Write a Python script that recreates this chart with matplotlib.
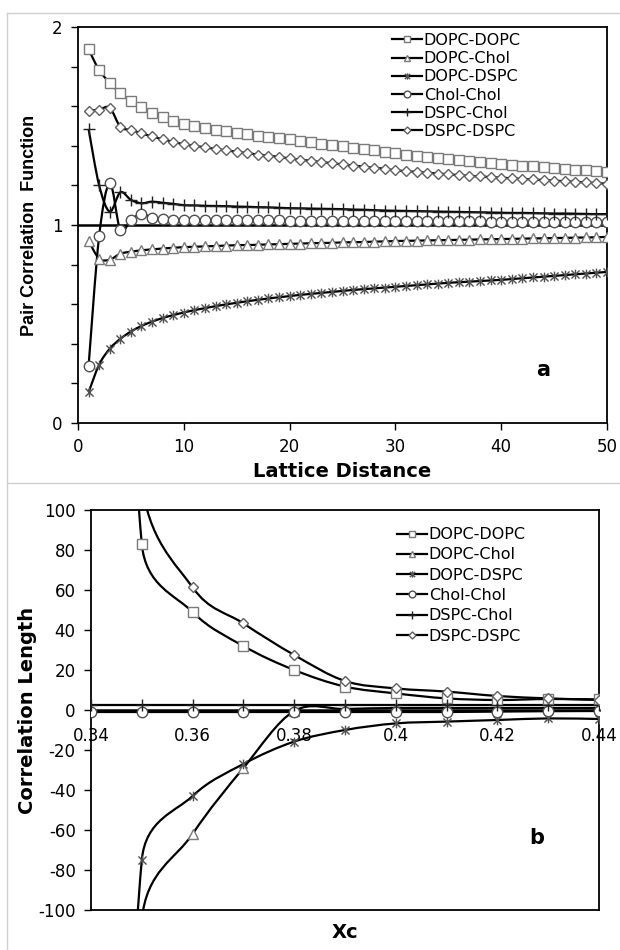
import numpy as np
import matplotlib
matplotlib.use("Agg")
import matplotlib.pyplot as plt
from matplotlib.path import Path
from matplotlib.patches import PathPatch
from matplotlib.lines import Line2D

plt.rcParams['font.family'] = ['DejaVu Sans']
plt.rcParams['axes.unicode_minus'] = False

# ---------------- data: panel a ----------------
series_names = ['DOPC-DOPC', 'DOPC-Chol', 'DOPC-DSPC', 'Chol-Chol', 'DSPC-Chol', 'DSPC-DSPC']
lattice_distance = list(range(1, 51))

g_dopc_dopc = [1.887, 1.782, 1.718, 1.666, 1.627, 1.595, 1.566, 1.544, 1.526, 1.512,
               1.500, 1.490, 1.481, 1.473, 1.465, 1.458, 1.451, 1.444, 1.438, 1.432,
               1.425, 1.418, 1.411, 1.404, 1.397, 1.390, 1.383, 1.377, 1.371, 1.362,
               1.356, 1.350, 1.344, 1.338, 1.333, 1.328, 1.323, 1.318, 1.313, 1.309,
               1.304, 1.300, 1.296, 1.292, 1.288, 1.284, 1.280, 1.276, 1.272, 1.267]
g_dopc_chol = [0.920, 0.830, 0.825, 0.855, 0.865, 0.872, 0.877, 0.881, 0.885, 0.888,
               0.890, 0.892, 0.894, 0.896, 0.898, 0.899, 0.900, 0.902, 0.903, 0.905,
               0.906, 0.908, 0.909, 0.910, 0.912, 0.913, 0.914, 0.916, 0.917, 0.919,
               0.920, 0.921, 0.922, 0.923, 0.924, 0.925, 0.926, 0.927, 0.928, 0.929,
               0.930, 0.931, 0.932, 0.933, 0.934, 0.935, 0.936, 0.937, 0.938, 0.940]
g_dopc_dspc = [0.155, 0.295, 0.375, 0.425, 0.462, 0.490, 0.512, 0.530, 0.545, 0.558,
               0.570, 0.580, 0.590, 0.599, 0.607, 0.615, 0.622, 0.629, 0.635, 0.641,
               0.647, 0.652, 0.657, 0.662, 0.667, 0.672, 0.676, 0.680, 0.684, 0.688,
               0.692, 0.696, 0.700, 0.704, 0.708, 0.711, 0.714, 0.717, 0.720, 0.723,
               0.727, 0.731, 0.735, 0.739, 0.743, 0.747, 0.751, 0.755, 0.759, 0.763]
g_chol_chol = [0.288, 0.945, 1.212, 0.975, 1.025, 1.057, 1.035, 1.028, 1.027, 1.026,
               1.026, 1.025, 1.025, 1.025, 1.024, 1.024, 1.024, 1.023, 1.023, 1.022,
               1.022, 1.022, 1.021, 1.021, 1.021, 1.020, 1.020, 1.020, 1.020, 1.019,
               1.019, 1.019, 1.019, 1.018, 1.018, 1.018, 1.018, 1.018, 1.017, 1.017,
               1.017, 1.017, 1.017, 1.017, 1.016, 1.016, 1.016, 1.016, 1.016, 1.016]
g_dspc_chol = [1.485, 1.200, 1.068, 1.165, 1.127, 1.110, 1.118, 1.112, 1.107, 1.100,
               1.099, 1.097, 1.096, 1.095, 1.093, 1.092, 1.090, 1.089, 1.087, 1.085,
               1.084, 1.083, 1.082, 1.081, 1.080, 1.078, 1.077, 1.075, 1.073, 1.072,
               1.071, 1.070, 1.069, 1.068, 1.067, 1.066, 1.065, 1.064, 1.063, 1.062,
               1.061, 1.061, 1.060, 1.059, 1.058, 1.058, 1.057, 1.056, 1.055, 1.055]
g_dspc_dspc = [1.577, 1.583, 1.592, 1.496, 1.480, 1.463, 1.447, 1.433, 1.420, 1.408,
               1.400, 1.392, 1.384, 1.377, 1.370, 1.363, 1.356, 1.350, 1.344, 1.336,
               1.330, 1.324, 1.318, 1.312, 1.306, 1.300, 1.295, 1.289, 1.284, 1.276,
               1.272, 1.268, 1.264, 1.260, 1.256, 1.252, 1.248, 1.245, 1.242, 1.239,
               1.236, 1.233, 1.230, 1.227, 1.224, 1.221, 1.218, 1.215, 1.212, 1.208]

xa_ticks = [0, 10, 20, 30, 40, 50]
ya_ticks = [0, 1, 2]
ya_tick_labels = ['0', '1', '2']

# ---------------- data: panel b ----------------
xc = [0.34, 0.35, 0.36, 0.37, 0.38, 0.39, 0.40, 0.41, 0.42, 0.43, 0.44]
l_dopc_dopc = [600, 83, 49, 32, 20, 11.7, 8.3, 5.8, 5.0, 5.5, 5.3]
l_dopc_chol = [-600, -105, -62, -29, -0.5, 0.5, 1.0, 1.0, 1.0, 1.0, 1.0]
l_dopc_dspc = [-600, -75, -43, -27, -15.8, -10, -6.7, -5.8, -5.0, -4.2, -4.5]
l_chol_chol = [-1.0, -1.0, -1.0, -1.0, -1.0, -1.0, -1.0, -1.0, -0.8, -0.6, -0.5]
l_dspc_chol = [2.5, 2.5, 2.5, 2.5, 2.5, 2.5, 2.5, 2.5, 2.5, 2.5, 2.5]
l_dspc_dspc = [600, 115, 61.3, 43.3, 27.5, 14.5, 10.8, 9.2, 7.0, 5.8, 5.0]

xb_ticks = [0.34, 0.36, 0.38, 0.40, 0.42, 0.44]
xb_tick_labels = ['0.34', '0.36', '0.38', '0.4', '0.42', '0.44']
yb_ticks = [-100, -80, -60, -40, -20, 0, 20, 40, 60, 80, 100]

# ---------------- styles ----------------
star = Path([(-1, -1), (1, 1), (-1, 1), (1, -1), (0, -1.2), (0, 1.2)],
            [Path.MOVETO, Path.LINETO, Path.MOVETO, Path.LINETO, Path.MOVETO, Path.LINETO])
styles = [
    dict(marker='s', ms=7.0, mfc='white', mec='#7a7a7a', mew=1.0),
    dict(marker='^', ms=7.0, mfc='white', mec='#7a7a7a', mew=1.0),
    dict(marker=star, ms=7.0, mfc='none', mec='#505050', mew=1.0),
    dict(marker='o', ms=7.5, mfc='white', mec='#505050', mew=1.0),
    dict(marker='+', ms=9.0, mfc='none', mec='#202020', mew=1.0),
    dict(marker='D', ms=5.5, mfc='white', mec='#606060', mew=1.0),
]
LW = 1.6


def smooth_path(x, y, sx, sy, limit=0.5):
    """Smoothed (Excel-like) cubic Bezier path through the data points.
    sx, sy: pixels per data unit, used to limit tangent lengths."""
    pts = np.column_stack([np.asarray(x, float), np.asarray(y, float)])
    scale = np.array([sx, sy])
    n = len(pts)
    verts = [pts[0]]
    codes = [Path.MOVETO]

    def clamp(v, chord):
        lv = np.hypot(*(v * scale))
        lc = np.hypot(*(chord * scale))
        if lv > limit * lc and lv > 0:
            v = v * (limit * lc / lv)
        return v

    for i in range(n - 1):
        p0 = pts[i - 1] if i > 0 else pts[i]
        p1 = pts[i]
        p2 = pts[i + 1]
        p3 = pts[i + 2] if i + 2 < n else pts[i + 1]
        chord = p2 - p1
        c1 = p1 + clamp((p2 - p0) / 6.0, chord)
        c2 = p2 - clamp((p3 - p1) / 6.0, chord)
        verts += [c1, c2, p2]
        codes += [Path.CURVE4] * 3
    return Path(np.array(verts), codes)


def draw_series(ax, x, ys, sx, sy):
    for y, st in zip(ys, styles):
        ax.add_patch(PathPatch(smooth_path(x, y, sx, sy), facecolor='none',
                               edgecolor='black', lw=LW, zorder=3))
        ax.plot(x, y, linestyle='none', zorder=4, **st)


def legend_handles():
    hs = []
    for st in styles:
        s = dict(st)
        s['ms'] = s['ms'] * 0.65
        hs.append(Line2D([], [], color='black', lw=LW, **s))
    return hs


W, H = 620, 950
fig = plt.figure(figsize=(W / 100, H / 100), dpi=100)

# page borders (the two pasted images)
for yy in (13, 483):
    fig.add_artist(Line2D([7 / W, 1.0], [1 - yy / H, 1 - yy / H], color='#cfcfcf', lw=1.0))
fig.add_artist(Line2D([7 / W, 7 / W], [1 - 13 / H, 0.0], color='#cfcfcf', lw=1.0))

# ---------------- panel a ----------------
A1 = (78, 27, 529, 396)   # left, top, width, height in px
ax1 = fig.add_axes([A1[0] / W, 1 - (A1[1] + A1[3]) / H, A1[2] / W, A1[3] / H])
draw_series(ax1, lattice_distance,
            [g_dopc_dopc, g_dopc_chol, g_dopc_dspc, g_chol_chol, g_dspc_chol, g_dspc_dspc],
            A1[2] / 50.0, A1[3] / 2.0)
ax1.axhline(1, color='black', lw=1.8, zorder=2)
ax1.set_xlim(0, 50)
ax1.set_ylim(0, 2)
ax1.set_xticks(xa_ticks)
ax1.set_yticks(ya_ticks, ya_tick_labels)
ax1.set_yticks(np.arange(0, 2.01, 0.2), minor=True)
ax1.tick_params(axis='both', which='both', direction='out', length=5, width=1.0,
                labelsize=12, colors='black')
ax1.tick_params(axis='x', pad=6)
ax1.tick_params(axis='y', pad=6)
for sp in ax1.spines.values():
    sp.set_linewidth(1.3)
    sp.set_color('black')
ax1.text(44, 0.27, 'a', fontsize=15, fontweight='bold', ha='center', va='center')
ax1.legend(legend_handles(), series_names, loc='upper left',
           bbox_to_anchor=(0.593, 0.985), frameon=False, fontsize=11.5,
           handlelength=1.9, handletextpad=0.1, labelspacing=0.2, borderpad=0.0,
           borderaxespad=0.0)

fig.text(30 / W, 1 - 225 / H, 'Pair Correlation  Function', rotation=90,
         ha='center', va='center', fontsize=13, fontweight='bold',
         family='Liberation Sans')
fig.text(342 / W, 1 - 471 / H, 'Lattice Distance', ha='center', va='center',
         fontsize=14, fontweight='bold')

# ---------------- panel b ----------------
A2 = (91, 510, 508, 400)
ax2 = fig.add_axes([A2[0] / W, 1 - (A2[1] + A2[3]) / H, A2[2] / W, A2[3] / H])
draw_series(ax2, xc,
            [l_dopc_dopc, l_dopc_chol, l_dopc_dspc, l_chol_chol, l_dspc_chol, l_dspc_dspc],
            A2[2] / 0.1, A2[3] / 200.0)
ax2.set_xlim(0.34, 0.44)
ax2.set_ylim(-100, 100)
ax2.set_xticks(xb_ticks, xb_tick_labels)
ax2.set_yticks(yb_ticks)
ax2.spines['bottom'].set_position(('data', 0))
ax2.spines['bottom'].set_linewidth(1.8)
ax2.spines['bottom'].set_zorder(2)
for k in ('left', 'right', 'top'):
    ax2.spines[k].set_linewidth(1.3)
    ax2.spines[k].set_color('black')
ax2.plot([0, 1], [0, 0], transform=ax2.transAxes, color='black', lw=1.3,
         clip_on=False, zorder=5)
ax2.tick_params(axis='both', which='both', direction='out', length=5, width=1.0,
                labelsize=12, colors='black')
ax2.tick_params(axis='x', pad=12, length=0)
ax2.tick_params(axis='y', pad=6)
for lab in ax2.get_xticklabels():
    lab.set_zorder(6)
ax2.text(0.4277, -64, 'b', fontsize=15, fontweight='bold', ha='center', va='center')
ax2.legend(legend_handles(), series_names, loc='upper left',
           bbox_to_anchor=(0.602, 0.957), frameon=False, fontsize=11.5,
           handlelength=1.9, handletextpad=0.1, labelspacing=0.33, borderpad=0.0,
           borderaxespad=0.0)

fig.text(28 / W, 1 - 710 / H, 'Correlation Length', rotation=90,
         ha='center', va='center', fontsize=14, fontweight='bold')
fig.text(345 / W, 1 - 932 / H, 'Xc', ha='center', va='center',
         fontsize=14, fontweight='bold')

fig.savefig('out.png', dpi=100)
